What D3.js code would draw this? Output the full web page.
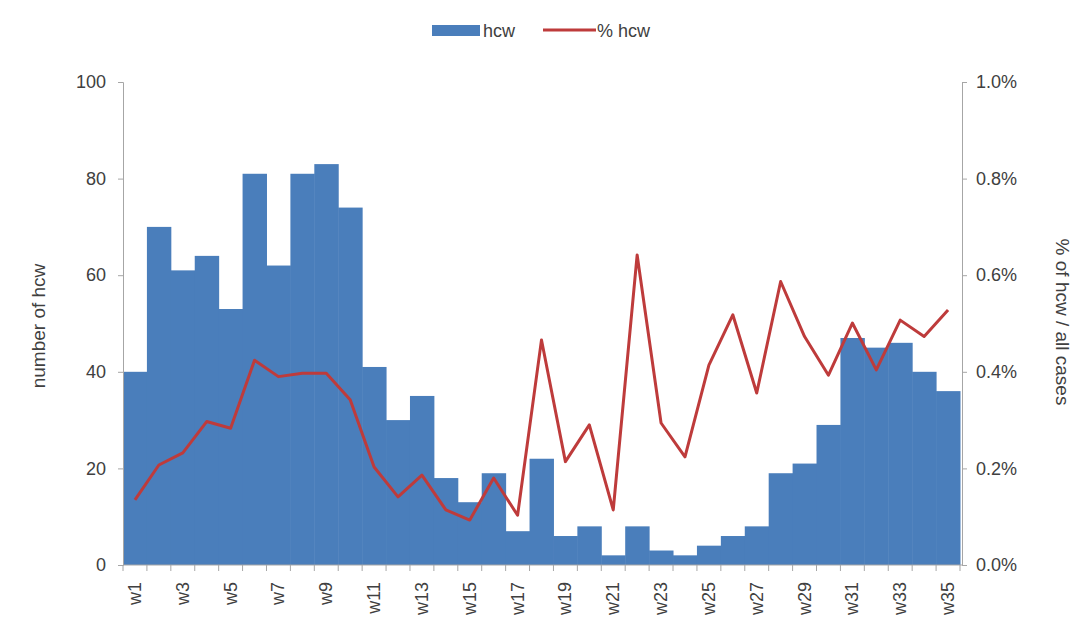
<!DOCTYPE html>
<html><head><meta charset="utf-8">
<script src="https://cdn.jsdelivr.net/npm/d3@7"></script>
<style>body{margin:0;background:#fff;} text{font-family:"Liberation Sans",Arial,sans-serif;}</style>
</head><body><svg id="c" width="1089" height="634"></svg>
<script>
const weeks = d3.range(1,36).map(i=>"w"+i);
const hcw = [40,70,61,64,53,81,62,81,83,74,41,30,35,18,13,19,7,22,6,8,2,8,3,2,4,6,8,19,21,29,47,45,46,40,36];
const pctHcw = [0.135,0.207,0.232,0.297,0.283,0.424,0.39,0.397,0.397,0.342,0.203,0.141,0.186,0.114,0.093,0.18,0.103,0.466,0.214,0.29,0.114,0.642,0.294,0.224,0.414,0.518,0.356,0.587,0.473,0.393,0.501,0.404,0.507,0.473,0.528];
const leftTicks = [0,20,40,60,80,100];
const rightTicks = [0,0.2,0.4,0.6,0.8,1.0];

const svg = d3.select("#c");
const L=123, R=960, T=82, B=565;
const x = d3.scaleBand().domain(weeks).range([L,R]).padding(0);
const y = d3.scaleLinear().domain([0,100]).range([B,T]);
const y2 = d3.scaleLinear().domain([0,1]).range([B,T]);
const txt="#404040", axc="#a6a6a6";
const fs="18px";

svg.selectAll("rect.bar").data(hcw).enter().append("rect")
  .attr("x",(d,i)=>x(weeks[i])).attr("width",x.bandwidth()+0.5)
  .attr("y",d=>y(d)).attr("height",d=>B-y(d)).attr("fill","#4a7ebb");

// left axis
const ga = svg.append("g").attr("transform",`translate(${L},0)`)
  .call(d3.axisLeft(y).tickValues(leftTicks).tickSize(5).tickPadding(12));
ga.select(".domain").attr("stroke",axc);
ga.selectAll("line").attr("stroke",axc);
ga.selectAll("text").attr("fill",txt).style("font-size",fs);

// right axis
const gr = svg.append("g").attr("transform",`translate(${R+2},0)`)
  .call(d3.axisRight(y2).tickValues(rightTicks).tickSize(5).tickPadding(9).tickFormat(d=>d.toFixed(1)+"%"));
gr.select(".domain").attr("stroke",axc);
gr.selectAll("line").attr("stroke",axc);
gr.selectAll("text").attr("fill",txt).style("font-size",fs);

// x axis
const gx = svg.append("g").attr("transform",`translate(0,${B})`);
gx.append("line").attr("x1",L).attr("x2",R+2).attr("stroke",axc);
gx.selectAll("line.t").data(d3.range(0,36)).enter().append("line")
  .attr("x1",i=>L+i*x.step()).attr("x2",i=>L+i*x.step()).attr("y1",0).attr("y2",6).attr("stroke",axc);
gx.selectAll("text").data(weeks.filter((d,i)=>i%2===0)).enter().append("text")
  .attr("transform",d=>`translate(${x(d)+x.bandwidth()/2+6},17) rotate(-90)`)
  .attr("text-anchor","end").attr("fill",txt).style("font-size",fs).text(d=>d);

// line
const line = d3.line().x((d,i)=>x(weeks[i])+x.bandwidth()/2).y(d=>y2(d));
svg.append("path").datum(pctHcw).attr("d",line).attr("fill","none")
  .attr("stroke","#be3b3b").attr("stroke-width",3).attr("stroke-linejoin","round");

// axis titles
svg.append("text").attr("transform","translate(45,326) rotate(-90)").attr("text-anchor","middle")
  .attr("fill",txt).style("font-size","19px").text("number of hcw");
svg.append("text").attr("transform","translate(1056,322) rotate(90)").attr("text-anchor","middle")
  .attr("fill",txt).style("font-size","19px").text("% of hcw / all cases");

// legend
const lg = svg.append("g");
lg.append("rect").attr("x",432).attr("y",25).attr("width",48).attr("height",11).attr("fill","#4a7ebb");
lg.append("text").attr("x",483).attr("y",37).attr("fill",txt).style("font-size",fs).text("hcw");
lg.append("line").attr("x1",543).attr("x2",596).attr("y1",30).attr("y2",30).attr("stroke","#be3b3b").attr("stroke-width",3);
lg.append("text").attr("x",597).attr("y",37).attr("fill",txt).style("font-size",fs).text("% hcw");
</script></body></html>
